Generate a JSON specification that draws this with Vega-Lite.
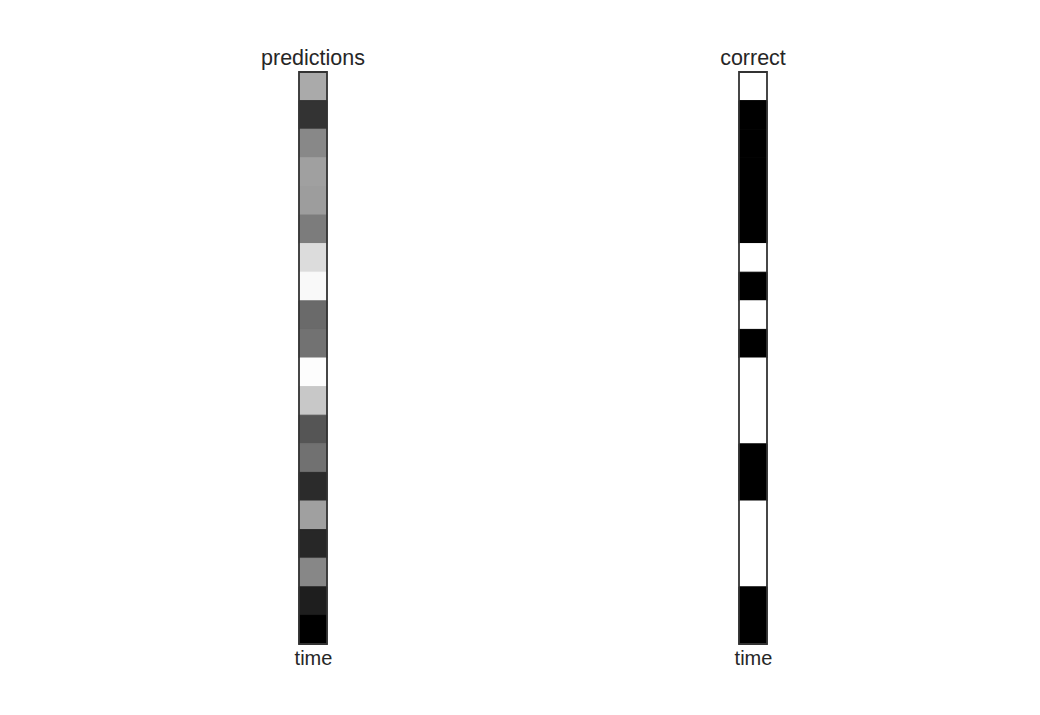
{
  "$schema": "https://vega.github.io/schema/vega-lite/v6.json",
  "autosize": {"type": "pad"},
  "padding": {"left": 261, "top": 47, "right": 20, "bottom": 20},
  "background": "#ffffff",
  "bounds": "flush",
  "spacing": 412,
  "config": {
    "font": "Liberation Sans",
    "view": {"stroke": null},
    "title": {"fontSize": 21.5, "fontWeight": "normal", "color": "#262626", "baseline": "alphabetic", "offset": 2, "anchor": "middle"},
    "axis": {"titleFontSize": 20, "titleFontWeight": "normal", "titleColor": "#262626", "labels": false, "ticks": false, "domain": false, "grid": false, "titlePadding": 4}
  },
  "datasets": {
    "grid": [
      {"panel": "predictions", "t": 1, "v": 0.667},
      {"panel": "predictions", "t": 2, "v": 0.2},
      {"panel": "predictions", "t": 3, "v": 0.533},
      {"panel": "predictions", "t": 4, "v": 0.627},
      {"panel": "predictions", "t": 5, "v": 0.616},
      {"panel": "predictions", "t": 6, "v": 0.486},
      {"panel": "predictions", "t": 7, "v": 0.863},
      {"panel": "predictions", "t": 8, "v": 0.976},
      {"panel": "predictions", "t": 9, "v": 0.416},
      {"panel": "predictions", "t": 10, "v": 0.447},
      {"panel": "predictions", "t": 11, "v": 0.992},
      {"panel": "predictions", "t": 12, "v": 0.784},
      {"panel": "predictions", "t": 13, "v": 0.333},
      {"panel": "predictions", "t": 14, "v": 0.443},
      {"panel": "predictions", "t": 15, "v": 0.169},
      {"panel": "predictions", "t": 16, "v": 0.627},
      {"panel": "predictions", "t": 17, "v": 0.153},
      {"panel": "predictions", "t": 18, "v": 0.529},
      {"panel": "predictions", "t": 19, "v": 0.118},
      {"panel": "predictions", "t": 20, "v": 0.0},
      {"panel": "correct", "t": 1, "v": 1},
      {"panel": "correct", "t": 2, "v": 0},
      {"panel": "correct", "t": 3, "v": 0},
      {"panel": "correct", "t": 4, "v": 0},
      {"panel": "correct", "t": 5, "v": 0},
      {"panel": "correct", "t": 6, "v": 0},
      {"panel": "correct", "t": 7, "v": 1},
      {"panel": "correct", "t": 8, "v": 0},
      {"panel": "correct", "t": 9, "v": 1},
      {"panel": "correct", "t": 10, "v": 0},
      {"panel": "correct", "t": 11, "v": 1},
      {"panel": "correct", "t": 12, "v": 1},
      {"panel": "correct", "t": 13, "v": 1},
      {"panel": "correct", "t": 14, "v": 0},
      {"panel": "correct", "t": 15, "v": 0},
      {"panel": "correct", "t": 16, "v": 1},
      {"panel": "correct", "t": 17, "v": 1},
      {"panel": "correct", "t": 18, "v": 1},
      {"panel": "correct", "t": 19, "v": 0},
      {"panel": "correct", "t": 20, "v": 0}
    ]
  },
  "hconcat": [
    {
      "title": "predictions",
      "width": 28,
      "height": 572,
      "layer": [
        {
          "data": {"name": "grid"},
          "transform": [{"filter": "datum.panel === 'predictions'"}],
          "mark": {"type": "rect", "strokeWidth": 1},
          "encoding": {
            "x": {"field": "panel", "type": "nominal", "scale": {"paddingInner": 0, "paddingOuter": 0}, "axis": {"title": "time"}},
            "y": {"field": "t", "type": "ordinal", "scale": {"paddingInner": 0, "paddingOuter": 0}, "axis": null},
            "color": {"field": "v", "type": "quantitative", "scale": {"domain": [0, 1], "range": ["#000000", "#ffffff"], "interpolate": "rgb"}, "legend": null},
            "stroke": {"field": "v", "type": "quantitative", "scale": {"domain": [0, 1], "range": ["#000000", "#ffffff"], "interpolate": "rgb"}, "legend": null}
          }
        },
        {
          "data": {"values": [{"frame": "predictions"}]},
          "mark": {"type": "rect", "fill": null, "stroke": "#333333", "strokeWidth": 1.8},
          "encoding": {}
        }
      ]
    },
    {
      "title": "correct",
      "width": 28,
      "height": 572,
      "layer": [
        {
          "data": {"name": "grid"},
          "transform": [{"filter": "datum.panel === 'correct'"}],
          "mark": {"type": "rect", "strokeWidth": 1},
          "encoding": {
            "x": {"field": "panel", "type": "nominal", "scale": {"paddingInner": 0, "paddingOuter": 0}, "axis": {"title": "time"}},
            "y": {"field": "t", "type": "ordinal", "scale": {"paddingInner": 0, "paddingOuter": 0}, "axis": null},
            "color": {"field": "v", "type": "quantitative", "scale": {"domain": [0, 1], "range": ["#000000", "#ffffff"], "interpolate": "rgb"}, "legend": null},
            "stroke": {"field": "v", "type": "quantitative", "scale": {"domain": [0, 1], "range": ["#000000", "#ffffff"], "interpolate": "rgb"}, "legend": null}
          }
        },
        {
          "data": {"values": [{"frame": "correct"}]},
          "mark": {"type": "rect", "fill": null, "stroke": "#333333", "strokeWidth": 1.8},
          "encoding": {}
        }
      ]
    }
  ]
}
